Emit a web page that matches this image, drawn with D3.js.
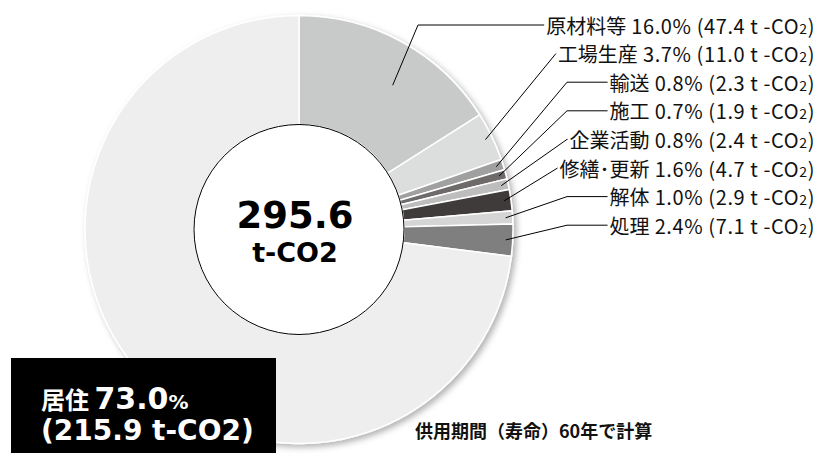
<!DOCTYPE html>
<html>
<head>
<meta charset="utf-8">
<script src="https://cdn.jsdelivr.net/npm/d3@7"></script>
<style>
  body { margin: 0; background: #fff; }
  svg { display: block; }
</style>
</head>
<body>
<div id="chart"></div>
<script>
// data (share in %, amount in t-CO2)
var categories = ["原材料等", "工場生産", "輸送", "施工", "企業活動", "修繕･更新", "解体", "処理", "居住"];
var shares = [16.0, 3.7, 0.8, 0.7, 0.8, 1.6, 1.0, 2.4, 73.0];
var tonnes = [47.4, 11.0, 2.3, 1.9, 2.4, 4.7, 2.9, 7.1, 215.9];
var total = 295.6;
var lifeYears = 60;

var palette = ["#c8c9c9", "#dcdddd", "#a0a0a0", "#6e6b6b", "#bdbdbd", "#403b3b", "#d5d5d5", "#7f7f7f", "#eeeeee"];

var width = 829, height = 462;
var cx = 299, cy = 229.5;
var outerR = 214, innerR = 105;

var svg = d3.select("#chart").append("svg")
    .attr("width", width)
    .attr("height", height);

// soft shadow round the pie
var defs = svg.append("defs");
defs.append("filter")
    .attr("id", "shadow")
    .attr("x", "-10%").attr("y", "-10%")
    .attr("width", "120%").attr("height", "120%")
  .append("feDropShadow")
    .attr("dx", 3).attr("dy", 3)
    .attr("stdDeviation", 3)
    .attr("flood-color", "#000")
    .attr("flood-opacity", 0.3);

var rows = categories.map(function(c, i) {
    return {name: c, share: shares[i], t: tonnes[i], color: palette[i]};
});

var pie = d3.pie().sort(null).value(function(d) { return d.share; });
var arcs = pie(rows);

var arc = d3.arc().innerRadius(innerR).outerRadius(outerR);

var g = svg.append("g").attr("transform", "translate(" + cx + "," + cy + ")");

g.append("g")
    .attr("filter", "url(#shadow)")
  .selectAll("path")
  .data(arcs)
  .enter()
  .append("path")
    .attr("d", arc)
    .attr("fill", function(d) { return d.data.color; })
    .attr("stroke", "#fff")
    .attr("stroke-width", 1.5);

// hole
g.append("circle")
    .attr("r", innerR)
    .attr("fill", "#fff")
    .attr("stroke", "#000")
    .attr("stroke-width", 1);

var latin = "'DejaVu Sans', 'Noto Sans CJK JP', sans-serif";
var cjk = "'Noto Sans CJK JP', sans-serif";

g.append("text")
    .attr("x", -4).attr("y", -2)
    .attr("text-anchor", "middle")
    .attr("font-family", latin)
    .attr("font-weight", "bold")
    .attr("font-size", 37)
    .text(total.toFixed(1));

g.append("text")
    .attr("x", -4).attr("y", 32.5)
    .attr("text-anchor", "middle")
    .attr("font-family", latin)
    .attr("font-weight", "bold")
    .attr("font-size", 27)
    .text("t-CO2");

// labels for every slice but the big one
var labelRight = 815;
var labelTop = 26, labelStep = 28.6;
var elbowMax = 567;

var labelled = arcs.slice(0, arcs.length - 1);
var labels = svg.append("g");

labelled.forEach(function(d, i) {
    var yMid = labelTop + i * labelStep;
    var t = labels.append("text")
        .attr("x", labelRight)
        .attr("y", yMid + 7.5)
        .attr("text-anchor", "end")
        .attr("font-family", cjk)
        .attr("font-size", 20)
        .attr("fill", "#111");
    t.append("tspan").text(d.data.name);
    var num = t.append("tspan").attr("letter-spacing", 0.6);
    num.append("tspan").text(" " + d.data.share.toFixed(1) + "% (" + d.data.t.toFixed(1) + " t -CO");
    num.append("tspan").attr("font-size", 14).text("2");
    num.append("tspan").text(")");

    var start = labelRight - t.node().getComputedTextLength();

    // anchor point inside the slice
    var mid = (d.startAngle + d.endAngle) / 2;
    var r = 207;
    if (i === 0) { mid = 33 * Math.PI / 180; r = 172; }
    var ax = cx + r * Math.sin(mid);
    var ay = cy - r * Math.cos(mid);

    var ly = yMid - 1;
    var ex = i === 0 ? 418 : Math.min(elbowMax, start - 2);
    var pts = [[ax, ay], [ex, ly], [start - 2, ly]];

    labels.append("path")
        .attr("d", d3.line()(pts))
        .attr("fill", "none")
        .attr("stroke", "#000")
        .attr("stroke-width", 1);
});

// big slice callout box
svg.append("rect")
    .attr("x", 11).attr("y", 358)
    .attr("width", 265).attr("height", 95)
    .attr("fill", "#000");

var big = rows[rows.length - 1];
var l1 = svg.append("text")
    .attr("x", 41).attr("y", 409)
    .attr("fill", "#fff")
    .attr("font-weight", "bold")
    .attr("font-family", latin);
l1.append("tspan").attr("font-family", cjk).attr("font-size", 24).text(big.name + " ");
l1.append("tspan").attr("font-size", 30).text(big.share.toFixed(1));
l1.append("tspan").attr("font-size", 20).text("%");

svg.append("text")
    .attr("x", 41).attr("y", 440)
    .attr("fill", "#fff")
    .attr("font-weight", "bold")
    .attr("font-family", latin)
    .attr("font-size", 28)
    .text("(" + big.t.toFixed(1) + " t-CO2)");

// footnote
svg.append("text")
    .attr("x", 415).attr("y", 437.5)
    .attr("font-family", cjk)
    .attr("font-weight", "bold")
    .attr("font-size", 18)
    .attr("fill", "#111")
    .text("供用期間（寿命）" + lifeYears + "年で計算");
</script>
</body>
</html>
